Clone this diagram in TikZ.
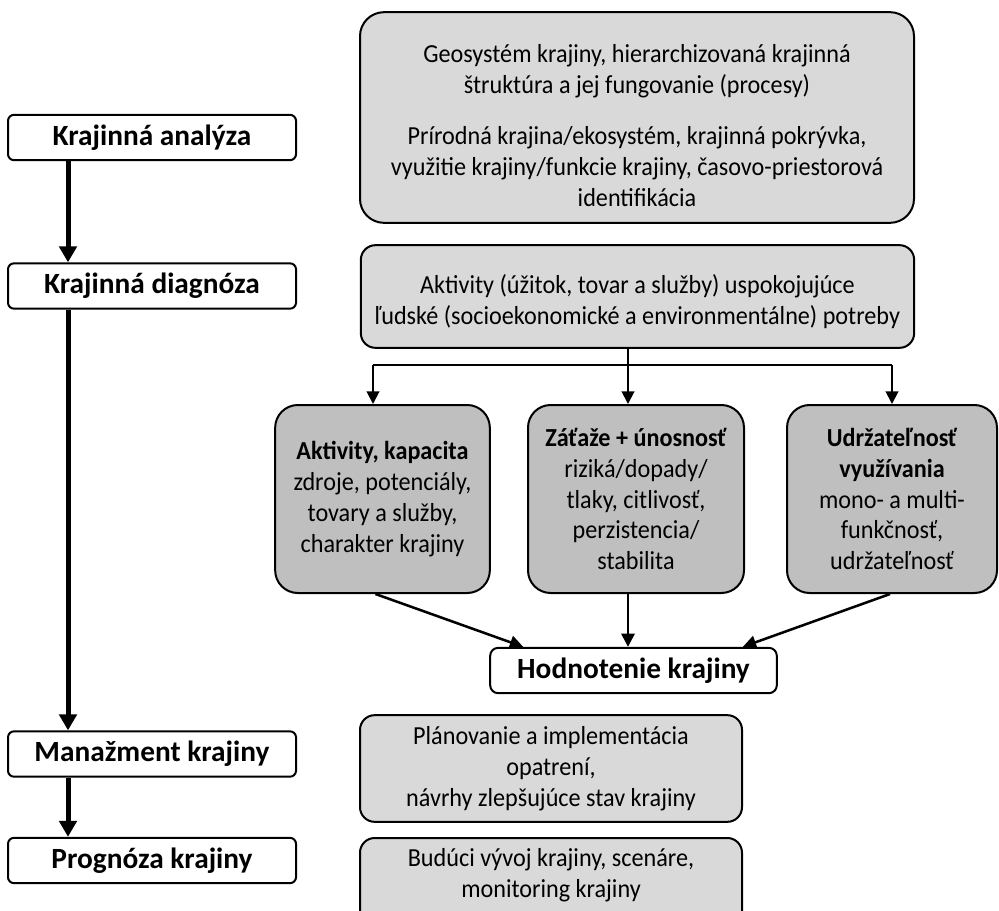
\documentclass[tikz,border=0pt]{standalone}
\usepackage{fontspec}
\setmainfont{Carlito}
\newfontfamily\narrowfont{Carlito}[FakeStretch=0.93]
\usetikzlibrary{arrows.meta,calc}
\definecolor{paleshade}{RGB}{217,217,217}
\definecolor{midshade}{RGB}{191,191,191}
\begin{document}
\begin{tikzpicture}[x=0.75pt,y=-0.75pt,
  stage/.style={draw,line width=1.5pt,rounded corners=4.5pt,fill=white,inner sep=0pt,
    minimum width=216pt,minimum height=34pt,font=\fontsize{22}{26}\selectfont\bfseries},
  bodytext/.style={align=center,inner sep=0pt,font=\narrowfont\fontsize{19.5}{23.2}\selectfont},
  infobox/.style={draw,line width=1.5pt,fill=paleshade,inner sep=0pt,bodytext},
  aspect/.style={draw,line width=1.5pt,fill=midshade,inner sep=0pt,bodytext,
    rounded corners=17pt,minimum height=141pt},
  mainarrow/.style={line width=3.75pt,-{Triangle[width=13pt,length=12pt]}},
  thinline/.style={line width=1.5pt},
  thinarrow/.style={line width=1.5pt,-{Triangle[width=9.5pt,length=9.5pt]}},
  midarrow/.style={line width=1.9pt,-{Triangle[width=10pt,length=10pt]}}]
\useasboundingbox (0,0) rectangle (999,910);

% stages of the process (left column)
\node[stage] (ka) at (152,137.5) {Krajinná analýza};
\node[stage] (kd) at (152,286) {Krajinná diagnóza};
\node[stage] (km) at (152,754) {Manažment krajiny};
\node[stage] (kp) at (152,860.5) {Prognóza krajiny};

\draw[mainarrow] (ka.south -| 68,0) -- (kd.north -| 68,0);
\draw[mainarrow] (kd.south -| 68,0) -- (km.north -| 68,0);
\draw[mainarrow] (km.south -| 68,0) -- (kp.north -| 68,0);

% content of each stage (right column)
\node[infobox,rounded corners=18pt,minimum width=415.5pt,minimum height=158pt] (geo) at (637,117.5) {};
\node[bodytext] (geotext) at (637,125.5)
  {Geosystém krajiny, hierarchizovaná krajinná\\
   štruktúra a jej fungovanie (procesy)\\[15pt]
   Prírodná krajina/ekosystém, krajinná pokrývka,\\
   využitie krajiny/funkcie krajiny, časovo-priestorová\\
   identifikácia};

\node[infobox,rounded corners=11pt,minimum width=415pt,minimum height=77pt] (akt) at (637.5,296.5) {};
\node[bodytext] (akttext) at (637.5,301.5)
  {Aktivity (úžitok, tovar a služby) uspokojujúce\\
   ľudské (socioekonomické a environmentálne) potreby};

\node[aspect,minimum width=161pt] (b1) at (382.5,499)
  {\textbf{Aktivity, kapacita}\\ zdroje, potenciály,\\ tovary a služby,\\ charakter krajiny};
\node[aspect,minimum width=162pt] (b2) at (636,499)
  {\textbf{Záťaže + únosnosť}\\ riziká/dopady/\\ tlaky, citlivosť,\\ perzistencia/\\ stabilita};
\node[aspect,minimum width=157.5pt] (b3) at (892,499)
  {\textbf{Udržateľnosť}\\ \textbf{využívania}\\ mono- a multi-\\ funkčnosť,\\ udržateľnosť};

\node[draw,line width=1.5pt,fill=white,rounded corners=6pt,inner sep=0pt,
  minimum width=215pt,minimum height=34pt,font=\fontsize{22}{26}\selectfont\bfseries]
  (hod) at (633.5,670.5) {Hodnotenie krajiny};

\node[infobox,rounded corners=11pt,minimum width=286.5pt,minimum height=80pt] (plan) at (551,768.5)
  {Plánovanie a implementácia\\ opatrení,\\ návrhy zlepšujúce stav krajiny};

% the last box runs past the lower edge of the page
\node[infobox,rounded corners=11pt,minimum width=286.5pt,minimum height=66pt] (bud) at (551,882) {};
\node[bodytext] (budtext) at (551,875)
  {Budúci vývoj krajiny, scenáre,\\ monitoring krajiny};

% branching from the activities box
\coordinate (split) at (628,365);
\coordinate (jl) at (373,365);
\coordinate (jr) at (892,365);
\draw[thinline] (split |- akt.south) -- (split);
\draw[thinline] (jl) -- (jr);
\draw[thinarrow] (split) -- (split |- b2.north);
\draw[thinarrow] (jl) -- (jl |- b1.north);
\draw[thinarrow] (jr) -- (jr |- b3.north);

% convergence into the assessment
\draw[midarrow] ($(b1.south)+(-7,0)$) -- ($(hod.north west)+(34,0)$);
\draw[midarrow] (split |- b2.south) -- (split |- hod.north);
\draw[midarrow] ($(b3.south)+(-2,0)$) -- ($(hod.north east)+(-35,0)$);
\end{tikzpicture}
\end{document}
